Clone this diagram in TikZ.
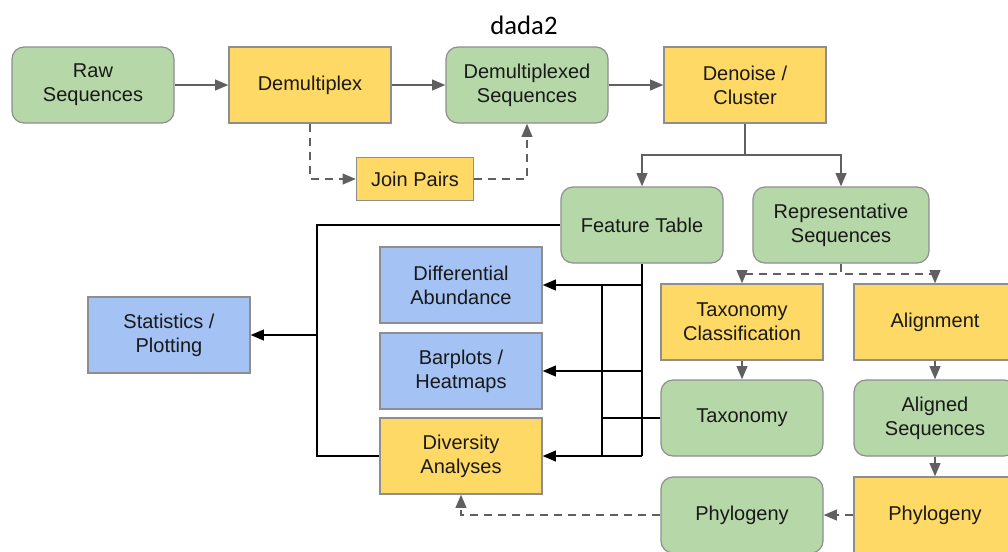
\documentclass[tikz,border=0pt]{standalone}
\usepackage{fontspec}
\setmainfont{Liberation Sans}
\newfontfamily\titlefont{Carlito}
\usetikzlibrary{arrows.meta}
\definecolor{datagreen}{HTML}{B6D7A8}
\definecolor{stepyellow}{HTML}{FFD966}
\definecolor{plotblue}{HTML}{A4C2F4}
\definecolor{edgegray}{HTML}{8E8E8E}
\definecolor{flowgray}{HTML}{606060}
\tikzset{
  box/.style={draw=edgegray, line width=0.9pt, minimum width=121.5pt, minimum height=57pt,
    align=center, inner sep=2pt, font=\fontsize{15}{18}\selectfont, text=black!90},
  artifact/.style={box, fill=datagreen, rounded corners=9pt},
  action/.style={box, fill=stepyellow},
  viz/.style={box, fill=plotblue},
  flow/.style={draw=flowgray, line width=1.6pt, -{Triangle[length=10pt,width=8pt]}},
  optional/.style={flow, dash pattern=on 6pt off 4.5pt},
  feed/.style={draw=black, line width=1.6pt},
  feedarrow/.style={feed, -{Triangle[length=10pt,width=8pt]}},
}
\begin{document}
\begin{tikzpicture}[x=0.75pt,y=0.75pt,yscale=-1,xscale=1]
\useasboundingbox (0,0) rectangle (1008,551);
\node (title) at (524,25) {\titlefont\fontsize{20}{24}\selectfont dada2};
% import and denoise
\node[artifact] (raw) at (93,85) {Raw\\Sequences};
\node[action] (demux) at (310,85) {Demultiplex};
\node[artifact] (demuxseq) at (527,85) {Demultiplexed\\Sequences};
\node[action] (denoise) at (745,85) {Denoise /\\Cluster};
\node[action, minimum width=87.75pt, minimum height=32pt] (join) at (415,179) {Join Pairs};
\draw[flow] (raw) -- (demux);
\draw[flow] (demux) -- (demuxseq);
\draw[flow] (demuxseq) -- (denoise);
\draw[optional] (demux.south) |- (join);
\draw[optional] (join.east) -| (demuxseq.south);
% outputs of denoising
\node[artifact] (feat) at (642,225) {Feature Table};
\node[artifact, minimum width=132pt] (rep) at (841,225) {Representative\\Sequences};
\coordinate (split) at (745,155);
\draw[flow] (denoise.south) -- (split) -| (feat.north);
\draw[flow] (split) -| (rep.north);
% taxonomy and phylogeny
\node[action] (taxcls) at (742,322) {Taxonomy\\Classification};
\node[action] (align) at (935,322) {Alignment};
\node[artifact] (tax) at (742,418) {Taxonomy};
\node[artifact] (aligned) at (935,418) {Aligned\\Sequences};
\node[artifact] (phylo) at (742,515) {Phylogeny};
\node[action] (tree) at (935,515) {Phylogeny};
\draw[optional] (rep.south) -- ++(0,10) -| (taxcls.north);
\draw[optional] (rep.south) -- ++(0,10) -| (align.north);
\draw[flow] (taxcls) -- (tax);
\draw[flow] (align) -- (aligned);
\draw[flow] (aligned) -- (tree);
\draw[optional] (tree) -- (phylo);
% analyses
\node[viz] (stats) at (169,335) {Statistics /\\Plotting};
\node[viz] (diff) at (461,285) {Differential\\Abundance};
\node[viz] (bar) at (461,371) {Barplots /\\Heatmaps};
\node[action] (div) at (461,456) {Diversity\\Analyses};
\draw[optional] (phylo.west) -| (div.south);
\coordinate (lbus) at (317,225);
\coordinate (taxbus) at (602,285);
\draw[feed] (feat.west) -- (lbus) |- (div.west);
\draw[feedarrow] (lbus |- stats.east) -- (stats.east);
\draw[feed] (feat.south) -- (feat.south |- div.east);
\draw[feed] (tax.west) -- (taxbus |- tax.west);
\draw[feed] (taxbus) -- (taxbus |- div.east);
\draw[feedarrow] (feat.south |- diff.east) -- (diff.east);
\draw[feedarrow] (feat.south |- bar.east) -- (bar.east);
\draw[feedarrow] (feat.south |- div.east) -- (div.east);
\end{tikzpicture}
\end{document}
